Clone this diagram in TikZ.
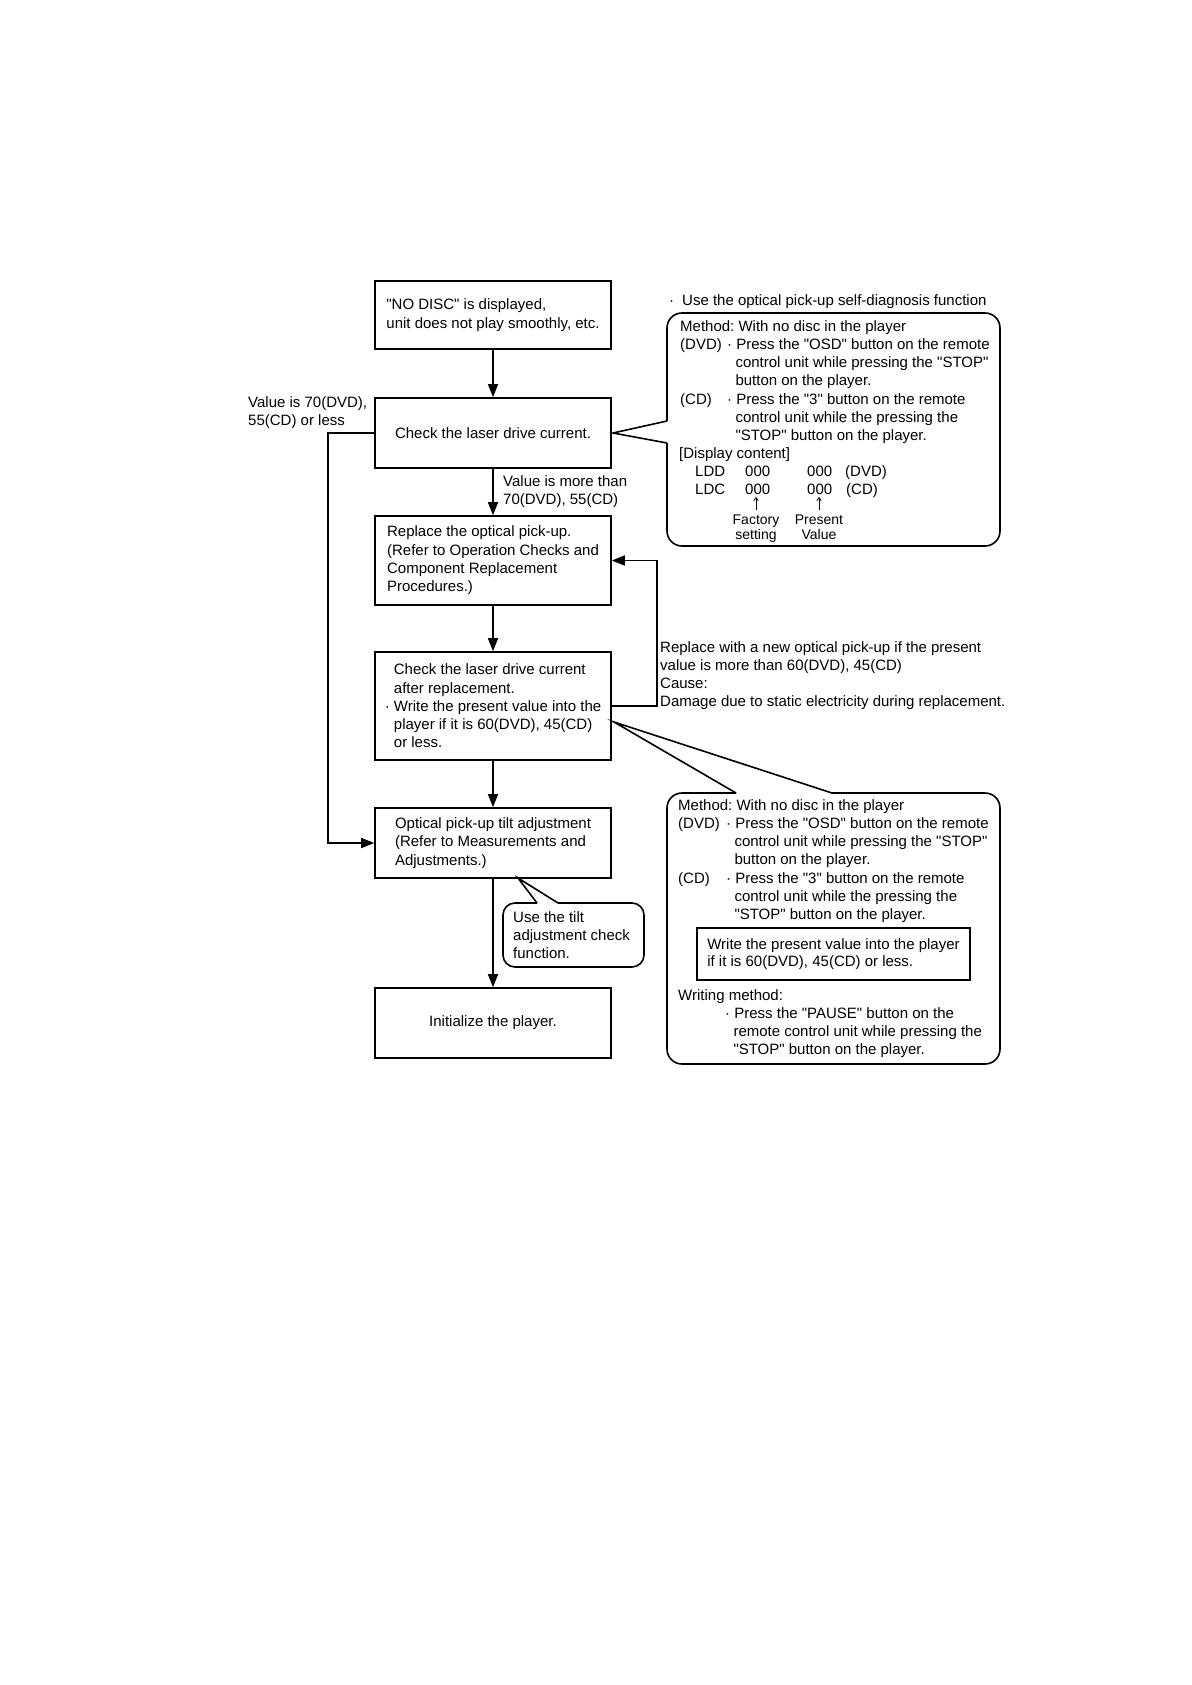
\documentclass[tikz,border=0pt]{standalone}
\usepackage{fontspec}
\setmainfont{Liberation Sans}[Ligatures=TeXOff]
\usetikzlibrary{arrows.meta}
\begin{document}
\frenchspacing
\begin{tikzpicture}[x=1pt,y=-1pt,
  lw/.style={line width=1.6pt},
  fbox/.style={draw,lw,minimum width=236pt,align=left,inner sep=0pt,
    font=\fontsize{15}{18.3}\selectfont},
  txt/.style={inner sep=0pt,align=left,anchor=north west,
    font=\fontsize{15}{18.3}\selectfont},
  one/.style={inner sep=0pt,anchor=base west,font=\fontsize{15}{18.3}\selectfont},
  onec/.style={inner sep=0pt,anchor=base,font=\fontsize{15}{18.3}\selectfont},
  arr/.style={lw,-{Triangle[length=13pt,width=10pt]}},
  smallarr/.style={line width=0.8pt,-{Straight Barb[length=3pt,width=4.5pt]}},
  callout/.style={lw,rounded corners=15pt},
  pointer/.style={lw,line join=miter}
]
\fill[white] (0,0) rectangle (1191,1685);
\useasboundingbox (0,0) rectangle (1191,1685);

% main flow boxes
\node[fbox,minimum height=68pt]  (b1) at (493,315)   {"NO DISC" is displayed,\\unit does not play smoothly, etc.};
\node[fbox,minimum height=70pt]  (b2) at (493,433)   {Check the laser drive current.};
\node[fbox,minimum height=89pt]  (b3) at (493,560.5) {Replace the optical pick-up.\\(Refer to Operation Checks and\\Component Replacement\\Procedures.)};
\node[fbox,minimum height=108pt] (b4) at (493,706)   {\hphantom{·\ }Check the laser drive current\\\hphantom{·\ }after replacement.\\·\ Write the present value into the\\\hphantom{·\ }player if it is 60(DVD), 45(CD)\\\hphantom{·\ }or less.};
\node[fbox,minimum height=70pt]  (b5) at (493,843)   {Optical pick-up tilt adjustment\\(Refer to Measurements and\\Adjustments.)};
\node[fbox,minimum height=70pt]  (b6) at (493,1023)  {Initialize the player.};

% connectors
\draw[arr] (b1) -- (b2);
\draw[arr] (b2) -- (b3);
\draw[arr] (b3) -- (b4);
\draw[arr] (b4) -- (b5);
\draw[arr] (b5) -- (b6);
\coordinate (lx) at (328,0);
\coordinate (rx) at (657,0);
\draw[arr] (b2.west) -- (b2.west -| lx) -- (b5.west -| lx) -- (b5.west);
\draw[arr] (b4.east) -- (b4.east -| rx) -- (b3.east -| rx) -- (b3.east);

% labels
\node[txt] (lblless) at (248,396) {Value is 70(DVD),\\55(CD) or less};
\node[txt] (lblmore) at (503,475) {Value is more than\\70(DVD), 55(CD)};
\node[txt] (lblrepl) at (660,641) {Replace with a new optical pick-up if the present\\value is more than 60(DVD), 45(CD)\\Cause:\\Damage due to static electricity during replacement.};

% top callout
\node[txt] (usediag) at (669,294) {\makebox[13pt][l]{·}Use the optical pick-up self-diagnosis function};
\draw[callout] (667,421) -- (667,313) -- (1000,313) -- (1000,546) -- (667,546) -- (667,443);
\draw[pointer] (667,421) -- (613,433) -- (667,443);
\node[txt] (m1) at (680,320) {Method: With no disc in the player\\
\makebox[47pt][l]{(DVD)}·\ Press the "OSD" button on the remote\\
\hspace*{55.3pt}control unit while pressing the "STOP"\\
\hspace*{55.3pt}button on the player.\\
\makebox[47pt][l]{(CD)}·\ Press the "3" button on the remote\\
\hspace*{55.3pt}control unit while the pressing the\\
\hspace*{55.3pt}"STOP" button on the player.};
\node[txt] (disp) at (679,447) {[Display content]};
\node[one] (ldd) at (695,476) {LDD};
\node[one] (ldda) at (745,476) {000};
\node[one] (lddb) at (807,476) {000};
\node[one] (lddc) at (845,476) {(DVD)};
\node[one] (ldc) at (695,494) {LDC};
\node[one] (ldca) at (745,494) {000};
\node[one] (ldcb) at (807,494) {000};
\node[one] (ldcc) at (846,494) {(CD)};
\node[onec,font=\fontsize{14}{15}\selectfont] (fac) at (756,524) {Factory};
\node[onec,font=\fontsize{14}{15}\selectfont] (set) at (756,539) {setting};
\node[onec,font=\fontsize{14}{15}\selectfont] (pre) at (819,524) {Present};
\node[onec,font=\fontsize{14}{15}\selectfont] (val) at (819,539) {Value};
\draw[smallarr] (fac.north |- 0,510) -- (fac.north |- 0,497);
\draw[smallarr] (pre.north |- 0,510) -- (pre.north |- 0,497);

% tilt callout
\draw[lw,rounded corners=12pt] (537,903) -- (503,903) -- (503,967) -- (644,967) -- (644,903) -- (558,903);
\draw[pointer] (537,903) -- (518,878) -- (558,903);
\node[txt] (tilt) at (513,911) {Use the tilt\\adjustment check\\function.};

% bottom callout
\draw[callout] (736,793) -- (667,793) -- (667,1064) -- (1000,1064) -- (1000,793) -- (832,793);
\draw[pointer] (736,793) -- (614,722) -- (832,793);
\node[txt] (m2) at (678,799) {Method: With no disc in the player\\
\makebox[48pt][l]{(DVD)}·\ Press the "OSD" button on the remote\\
\hspace*{56.3pt}control unit while pressing the "STOP"\\
\hspace*{56.3pt}button on the player.\\
\makebox[48pt][l]{(CD)}·\ Press the "3" button on the remote\\
\hspace*{56.3pt}control unit while the pressing the\\
\hspace*{56.3pt}"STOP" button on the player.};
\node[draw,lw,minimum width=273pt,minimum height=52pt,inner sep=0pt,align=left,
  font=\fontsize{15}{17.5}\selectfont] (wr) at (833.5,954)
  {Write the present value into the player\\if it is 60(DVD), 45(CD) or less.};
\node[txt] (wm) at (678,989) {Writing method:\\
\hspace*{47pt}·\ Press the "PAUSE" button on the\\
\hspace*{55.3pt}remote control unit while pressing the\\
\hspace*{55.3pt}"STOP" button on the player.};
\end{tikzpicture}
\end{document}
